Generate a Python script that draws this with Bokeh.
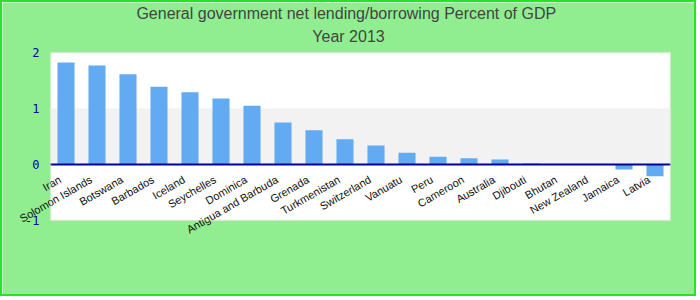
import math
from bokeh.plotting import figure
from bokeh.models import ColumnDataSource, BoxAnnotation, Range1d
from bokeh.core.properties import value
from bokeh.embed import file_html
from bokeh.resources import INLINE

countries = ["Iran", "Solomon Islands", "Botswana", "Barbados", "Iceland", "Seychelles",
             "Dominica", "Antigua and Barbuda", "Grenada", "Turkmenistan", "Switzerland",
             "Vanuatu", "Peru", "Cameroon", "Australia", "Djibouti", "Bhutan",
             "New Zealand", "Jamaica", "Latvia"]
values = [1.82, 1.77, 1.61, 1.39, 1.29, 1.18, 1.05, 0.75, 0.61, 0.45, 0.34,
          0.21, 0.14, 0.11, 0.09, 0.02, 0.0, 0.0, -0.09, -0.21]
y_ticks = [-1, 0, 1, 2]
y_tick_labels = ["-1", "0", "1", "2"]
title_lines = ["General government net lending/borrowing  Percent of GDP", "Year 2013"]

idx = list(range(len(countries)))
x_lo, x_hi = idx[0] - 0.5, idx[-1] + 0.5
y_lo, y_hi = y_ticks[0], y_ticks[-1]

# pixel geometry: canvas 696x296, plotting area 620x168 at (48, 50) inside it
W, H = 696, 296
px_per_cat = 620 / len(countries)
px_per_unit = 168 / (y_hi - y_lo)
xs = x_lo - 48 / px_per_cat
xe = xs + W / px_per_cat
ye = y_hi + 50 / px_per_unit
ys = ye - H / px_per_unit

src = ColumnDataSource(dict(x=idx, top=values, zero=[0] * len(values), name=countries))
tick_src = ColumnDataSource(dict(y=y_ticks, x=[x_lo] * len(y_ticks), t=y_tick_labels))
title_src = ColumnDataSource(dict(x=[(xs + xe) / 2] * 2, y=[ye] * 2, t=title_lines,
                                  dy=[11, 34]))

p = figure(width=W, height=H, x_range=Range1d(xs, xe), y_range=Range1d(ys, ye),
           output_backend="svg", toolbar_location=None,
           min_border_left=0, min_border_right=0, min_border_top=0, min_border_bottom=0)
p.styles = {"border": "2px solid #22e622"}
p.title.visible = False

p.border_fill_color = "#90ee90"
p.background_fill_color = "#90ee90"
p.outline_line_color = None
p.xaxis.visible = False
p.yaxis.visible = False
p.grid.visible = False

# plot area and the 0..1 band
p.add_layout(BoxAnnotation(left=x_lo, right=x_hi, bottom=y_lo, top=y_hi, level="underlay",
                           fill_color="white", fill_alpha=1, line_color=None))
p.add_layout(BoxAnnotation(left=x_lo, right=x_hi, bottom=y_ticks[1], top=y_ticks[2],
                           level="underlay", fill_color="#f2f2f2", fill_alpha=1,
                           line_color=None))

p.vbar(x="x", top="top", bottom=0, width=0.55, source=src, color="#62aaf2", line_color=None)

p.segment(x0=[x_lo], x1=[x_hi], y0=[0], y1=[0], line_color="#000099", line_width=2)

p.add_layout(BoxAnnotation(left=x_lo, right=x_hi, bottom=y_lo, top=y_hi,
                           fill_alpha=0, line_color="#d4d4d4", line_width=2))

p.text(x="x", y="zero", text="name", source=src, angle=math.pi / 6,
       text_align="right", text_baseline="middle", x_offset=-6, y_offset=14,
       text_font=value("Liberation Sans"), text_font_size="11px", text_color="#111111")

p.text(x="x", y="y", text="t", source=tick_src, text_align="right",
       text_baseline="middle", x_offset=-11,
       text_font=value("DejaVu Sans Mono"), text_font_size="12px", text_color="#0000a0")

p.text(x="x", y="y", text="t", source=title_src, y_offset="dy", x_offset=-2,
       text_align="center", text_baseline="middle",
       text_font=value("Liberation Sans"), text_font_size="16px", text_color="#444444")

open("out.html", "w").write(file_html(p, INLINE))
